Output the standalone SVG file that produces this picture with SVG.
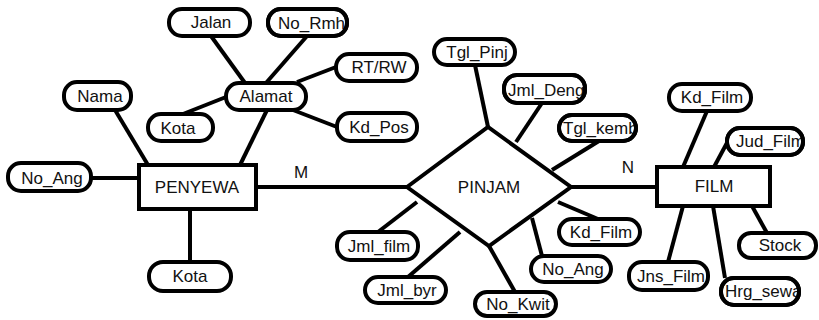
<svg xmlns="http://www.w3.org/2000/svg" width="819" height="320" viewBox="0 0 819 320">
  <style>
    .attr { fill: #ffffff; stroke: #000000; stroke-width: 4; }
    .ent { fill: #ffffff; stroke: #000000; stroke-width: 4; }
    .edge { stroke: #000000; stroke-width: 4; fill: none; stroke-linecap: butt; }
    text { font-family: "Liberation Sans", Arial, sans-serif; font-size: 17px; fill: #111111; }
    .c { text-anchor: middle; }
    .s { text-anchor: start; }
  </style>
  <defs>
    <clipPath id="clip-norumah"><rect x="266" y="7" width="83" height="31" rx="15"/></clipPath>
    <clipPath id="clip-jmlden"><rect x="502" y="73" width="85" height="32" rx="15"/></clipPath>
    <clipPath id="clip-tglkemb"><rect x="557" y="113" width="81" height="30" rx="15"/></clipPath>
    <clipPath id="clip-judfilm"><rect x="725" y="126" width="80" height="29" rx="14"/></clipPath>
    <clipPath id="clip-hrgsewa"><rect x="719" y="276" width="82" height="31" rx="15"/></clipPath>
  </defs>

  <rect width="819" height="320" fill="#ffffff"/>

  <!-- connectors -->
  <g id="connectors">
    <line class="edge" x1="211" y1="36" x2="245" y2="83"/>
    <line class="edge" x1="307" y1="36" x2="266" y2="83"/>
    <line class="edge" x1="336" y1="67" x2="297" y2="82"/>
    <line class="edge" x1="183" y1="114" x2="226" y2="97"/>
    <line class="edge" x1="293" y1="110" x2="337" y2="127"/>
    <line class="edge" x1="115" y1="110" x2="148" y2="165"/>
    <line class="edge" x1="267" y1="110" x2="240" y2="165"/>
    <line class="edge" x1="91" y1="178" x2="139" y2="178"/>
    <line class="edge" x1="190" y1="209" x2="190" y2="262"/>
    <line class="edge" x1="256" y1="187" x2="407" y2="187"/>
    <line class="edge" x1="475" y1="65" x2="488" y2="127"/>
    <line class="edge" x1="542" y1="103" x2="516" y2="142"/>
    <line class="edge" x1="599" y1="141" x2="552" y2="170"/>
    <line class="edge" x1="571" y1="187" x2="657" y2="187"/>
    <line class="edge" x1="558" y1="202" x2="598" y2="219"/>
    <line class="edge" x1="532" y1="218" x2="542" y2="256"/>
    <line class="edge" x1="489" y1="246" x2="515" y2="292"/>
    <line class="edge" x1="460" y1="232" x2="408" y2="277"/>
    <line class="edge" x1="417" y1="202" x2="378" y2="232"/>
    <line class="edge" x1="707" y1="111" x2="683" y2="167"/>
    <line class="edge" x1="728" y1="141" x2="714" y2="167"/>
    <line class="edge" x1="752" y1="206" x2="767" y2="233"/>
    <line class="edge" x1="713" y1="206" x2="725" y2="278"/>
    <line class="edge" x1="683" y1="206" x2="668" y2="262"/>
  </g>

  <!-- PENYEWA side -->
  <g id="jalan">
    <rect class="attr" x="169" y="9" width="81" height="27" rx="13"/>
    <text class="c" x="211" y="28">Jalan</text>
  </g>
  <g id="no-rmh">
    <rect class="attr" x="268" y="9" width="79" height="27" rx="13"/>
    <text class="s" x="278" y="29" clip-path="url(#clip-norumah)">No_Rmh</text>
    <rect x="268" y="9" width="79" height="27" rx="13" fill="none" stroke="#000" stroke-width="4"/>
  </g>
  <g id="rt-rw">
    <rect class="attr" x="336" y="54" width="81" height="27" rx="13"/>
    <text class="c" x="379" y="73">RT/RW</text>
  </g>
  <g id="alamat">
    <rect class="attr" x="226" y="83" width="80" height="27" rx="13"/>
    <text class="c" x="266" y="102">Alamat</text>
  </g>
  <g id="kota-alamat">
    <rect class="attr" x="148" y="114" width="65" height="27" rx="13"/>
    <text class="c" x="178" y="134">Kota</text>
  </g>
  <g id="nama">
    <rect class="attr" x="64" y="82" width="67" height="28" rx="13"/>
    <text class="c" x="100" y="102">Nama</text>
  </g>
  <g id="kd-pos">
    <rect class="attr" x="337" y="113" width="80" height="28" rx="13"/>
    <text class="c" x="379" y="133">Kd_Pos</text>
  </g>
  <g id="no-ang-penyewa">
    <rect class="attr" x="8" y="163" width="83" height="28" rx="13"/>
    <text class="c" x="52" y="184">No_Ang</text>
  </g>
  <g id="penyewa">
    <rect class="ent" x="139" y="165" width="117" height="44"/>
    <text class="c" x="197" y="193">PENYEWA</text>
  </g>
  <g id="kota">
    <rect class="attr" x="149" y="262" width="82" height="29" rx="14"/>
    <text class="c" x="190" y="282">Kota</text>
  </g>

  <!-- PINJAM relationship -->
  <g id="pinjam">
    <polygon class="ent" points="407,187 488,127 571,187 489,246"/>
    <text class="c" x="489" y="193">PINJAM</text>
  </g>
  <g id="tgl-pinj">
    <rect class="attr" x="434" y="39" width="81" height="26" rx="13"/>
    <text class="c" x="477" y="58">Tgl_Pinj</text>
  </g>
  <g id="jml-deng">
    <rect class="attr" x="504" y="75" width="81" height="28" rx="13"/>
    <text class="s" x="508" y="96" clip-path="url(#clip-jmlden)">Jml_Deng</text>
    <rect x="504" y="75" width="81" height="28" rx="13" fill="none" stroke="#000" stroke-width="4"/>
  </g>
  <g id="tgl-kemb">
    <rect class="attr" x="559" y="115" width="77" height="26" rx="13"/>
    <text class="s" x="563" y="134" clip-path="url(#clip-tglkemb)">Tgl_kemb</text>
    <rect x="559" y="115" width="77" height="26" rx="13" fill="none" stroke="#000" stroke-width="4"/>
  </g>
  <g id="kd-film-pinjam">
    <rect class="attr" x="559" y="219" width="81" height="26" rx="13"/>
    <text class="c" x="601" y="238">Kd_Film</text>
  </g>
  <g id="no-ang-pinjam">
    <rect class="attr" x="531" y="256" width="80" height="26" rx="13"/>
    <text class="c" x="573" y="275">No_Ang</text>
  </g>
  <g id="no-kwit">
    <rect class="attr" x="475" y="292" width="81" height="24" rx="12"/>
    <text class="c" x="518" y="310">No_Kwit</text>
  </g>
  <g id="jml-byr">
    <rect class="attr" x="365" y="277" width="81" height="26" rx="13"/>
    <text class="c" x="407" y="296">Jml_byr</text>
  </g>
  <g id="jml-film">
    <rect class="attr" x="337" y="232" width="81" height="28" rx="13"/>
    <text class="c" x="379" y="252">Jml_film</text>
  </g>

  <!-- FILM side -->
  <g id="film">
    <rect class="ent" x="657" y="167" width="113" height="39"/>
    <text class="c" x="714" y="192">FILM</text>
  </g>
  <g id="kd-film">
    <rect class="attr" x="669" y="84" width="82" height="27" rx="13"/>
    <text class="c" x="712" y="103">Kd_Film</text>
  </g>
  <g id="jud-film">
    <rect class="attr" x="727" y="128" width="76" height="27" rx="13"/>
    <text class="s" x="736" y="147" clip-path="url(#clip-judfilm)">Jud_Film</text>
    <rect x="727" y="128" width="76" height="27" rx="13" fill="none" stroke="#000" stroke-width="4"/>
  </g>
  <g id="stock">
    <rect class="attr" x="739" y="233" width="77" height="25" rx="12"/>
    <text class="c" x="780" y="251">Stock</text>
  </g>
  <g id="hrg-sewa">
    <rect class="attr" x="721" y="278" width="78" height="27" rx="13"/>
    <text class="s" x="725" y="297" clip-path="url(#clip-hrgsewa)">Hrg_sewa</text>
    <rect x="721" y="278" width="78" height="27" rx="13" fill="none" stroke="#000" stroke-width="4"/>
  </g>
  <g id="jns-film">
    <rect class="attr" x="629" y="262" width="79" height="28" rx="13"/>
    <text class="c" x="671" y="282">Jns_Film</text>
  </g>

  <!-- cardinality labels -->
  <text class="c" x="301" y="178">M</text>
  <text class="c" x="628" y="173">N</text>
</svg>
